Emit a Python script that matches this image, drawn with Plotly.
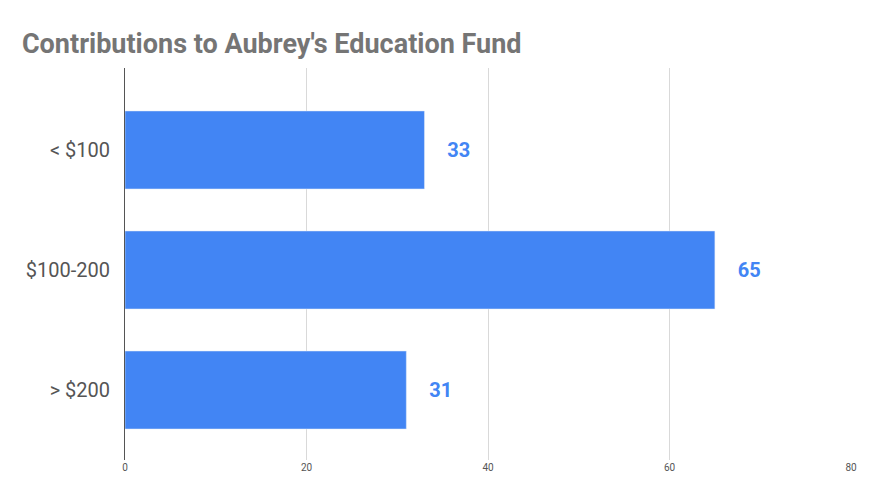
import plotly.graph_objects as go

categories = ["< $100", "$100-200", "> $200"]
values = [33, 65, 31]
x_ticks = [0, 20, 40, 60, 80]

fig = go.Figure(go.Bar(
    x=values, y=categories, orientation="h",
    marker_color="#4285f4", width=0.65,
    text=["    " + str(v) for v in values], textposition="outside",
    textfont=dict(family="Roboto", size=20, color="#4285f4", weight="bold"),
    cliponaxis=False,
))

fig.update_layout(
    width=873, height=501,
    margin=dict(l=117, r=30, t=60, b=49),
    plot_bgcolor="white", paper_bgcolor="white",
    title=dict(text="<b>Contributions to Aubrey's Education Fund</b>",
               x=0.016, y=0.93, xanchor="left", yanchor="middle",
               font=dict(family="Roboto", size=27, color="#757575")),
    xaxis=dict(range=[0, 80], tickvals=x_ticks, showgrid=True, gridcolor="#d9d9d9",
               zeroline=False, tickfont=dict(family="Roboto", size=10, color="#555"),
               ticks="", showline=False),
    yaxis=dict(categoryorder="array", categoryarray=categories,
               range=[2.583, -0.683], showline=True, linecolor="#555", linewidth=1,
               tickfont=dict(family="Roboto", size=20, color="#555"), ticks="",
               ticksuffix="  "),
    showlegend=False,
)

fig.write_html("out.html")
